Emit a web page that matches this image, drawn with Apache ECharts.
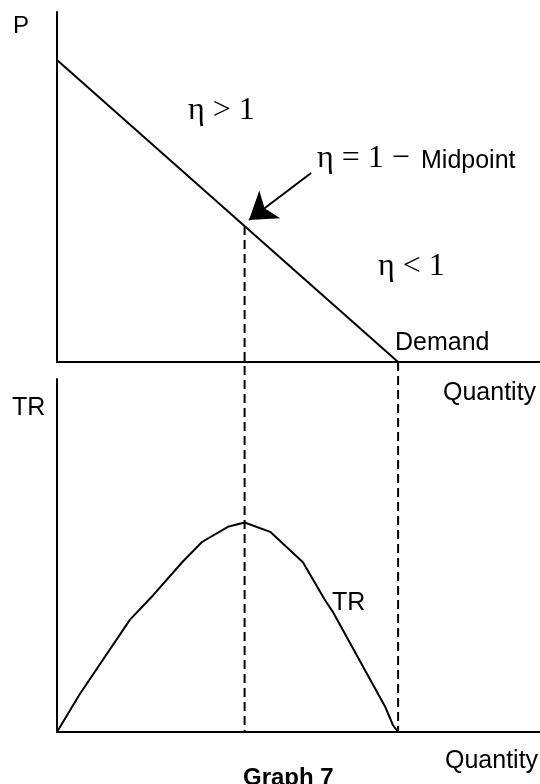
<!DOCTYPE html>
<html>
<head>
<meta charset="utf-8">
<script src="https://cdn.jsdelivr.net/npm/echarts/dist/echarts.min.js"></script>
<style>
html, body { margin: 0; padding: 0; background: #fff; }
#chart { width: 540px; height: 784px; }
</style>
</head>
<body>
<div id="chart"></div>
<script>
// demand line (top panel)
var demandQ = [0, 10];
var demandP = [10, 0];
// unit elastic point
var midQ = 5.5;
var midP = 4.5;
// TR curve (bottom panel)
var trQ = [0, 0.67, 2.14, 2.82, 3.67, 4.25, 5.01, 5.5, 6.25, 7.21, 7.86, 8.09, 9.62, 9.85, 10];
var trV = [0, 4.5, 13.3, 16.2, 20.1, 22.5, 24.3, 24.8, 23.7, 20.1, 15.6, 14.2, 3.0, 0.8, 0];
// arrow pointing to the midpoint
var arrowFrom = [7.45, 6.26];
var arrowTo = [5.63, 4.70];
// how far the dashed guides drop below the top axis (in P units)
var guideBottomP = -12.25;

var myChart = echarts.init(document.getElementById('chart'));

function zip(a, b) {
    var res = [];
    for (var i = 0; i < a.length; i++) res.push([a[i], b[i]]);
    return res;
}

var sans = '"Liberation Sans", Arial, sans-serif';
var serif = '"Liberation Serif", "Times New Roman", serif';

function axisStyle(extra) {
    var o = {
        type: 'value',
        axisLine: { show: true, onZero: false, lineStyle: { color: '#000', width: 2 } },
        axisTick: { show: false },
        axisLabel: { show: false },
        splitLine: { show: false }
    };
    for (var k in extra) o[k] = extra[k];
    return o;
}

function label(text, x, y, font, weight) {
    return {
        type: 'text',
        x: x,
        y: y,
        silent: true,
        style: {
            text: text,
            font: (weight || 'normal') + ' ' + font,
            fill: '#000',
            textVerticalAlign: 'middle',
            verticalAlign: 'middle'
        }
    };
}

var line = { color: '#000', width: 2 };
var dashed = { color: '#000', width: 2, type: [9, 5] };

myChart.setOption({
    animation: false,
    backgroundColor: '#fff',
    grid: [
        { left: 57, right: 0, top: 12, height: 350 },
        { left: 57, right: 0, top: 379, height: 353 }
    ],
    xAxis: [
        axisStyle({ gridIndex: 0, min: 0, max: 14.16 }),
        axisStyle({ gridIndex: 1, min: 0, max: 14.16 })
    ],
    yAxis: [
        axisStyle({ gridIndex: 0, min: 0, max: 11.59 }),
        axisStyle({ gridIndex: 1, min: 0, max: 41.8 })
    ],
    series: [
        {
            name: 'Demand',
            type: 'line',
            xAxisIndex: 0, yAxisIndex: 0,
            data: zip(demandQ, demandP),
            symbol: 'none',
            lineStyle: line,
            silent: true,
            markLine: {
                silent: true,
                symbol: ['none', 'arrow'],
                symbolSize: 26,
                label: { show: false },
                lineStyle: { color: '#000', width: 2, type: 'solid' },
                data: [[{ coord: arrowFrom }, { coord: arrowTo }]]
            }
        },
        {
            name: 'guide1',
            type: 'line',
            xAxisIndex: 0, yAxisIndex: 0,
            clip: false,
            data: [[midQ, midP], [midQ, guideBottomP]],
            symbol: 'none',
            lineStyle: dashed,
            silent: true
        },
        {
            name: 'guide2',
            type: 'line',
            xAxisIndex: 0, yAxisIndex: 0,
            clip: false,
            data: [[demandQ[1], 0], [demandQ[1], guideBottomP]],
            symbol: 'none',
            lineStyle: dashed,
            silent: true
        },
        {
            name: 'TR',
            type: 'line',
            xAxisIndex: 1, yAxisIndex: 1,
            data: zip(trQ, trV),
            symbol: 'none',
            lineStyle: line,
            silent: true
        }
    ],
    graphic: [
        label('P', 13, 26, '24px ' + sans),
        label('\u03b7 > 1', 188, 111, '32px ' + serif),
        label('\u03b7 = 1 \u2212', 317, 159, '32px ' + serif),
        label('Midpoint', 421, 161, '25px ' + sans),
        label('\u03b7 < 1', 378, 267, '32px ' + serif),
        label('Demand', 395, 343, '25px ' + sans),
        label('Quantity', 443, 393, '25px ' + sans),
        label('TR', 12, 408, '25px ' + sans),
        label('TR', 332, 603, '25px ' + sans),
        label('Quantity', 445, 761, '25px ' + sans),
        label('Graph 7', 243, 778, '24px ' + sans, 'bold')
    ]
});

window.addEventListener('resize', function () {
    myChart.resize();
});
</script>
</body>
</html>
